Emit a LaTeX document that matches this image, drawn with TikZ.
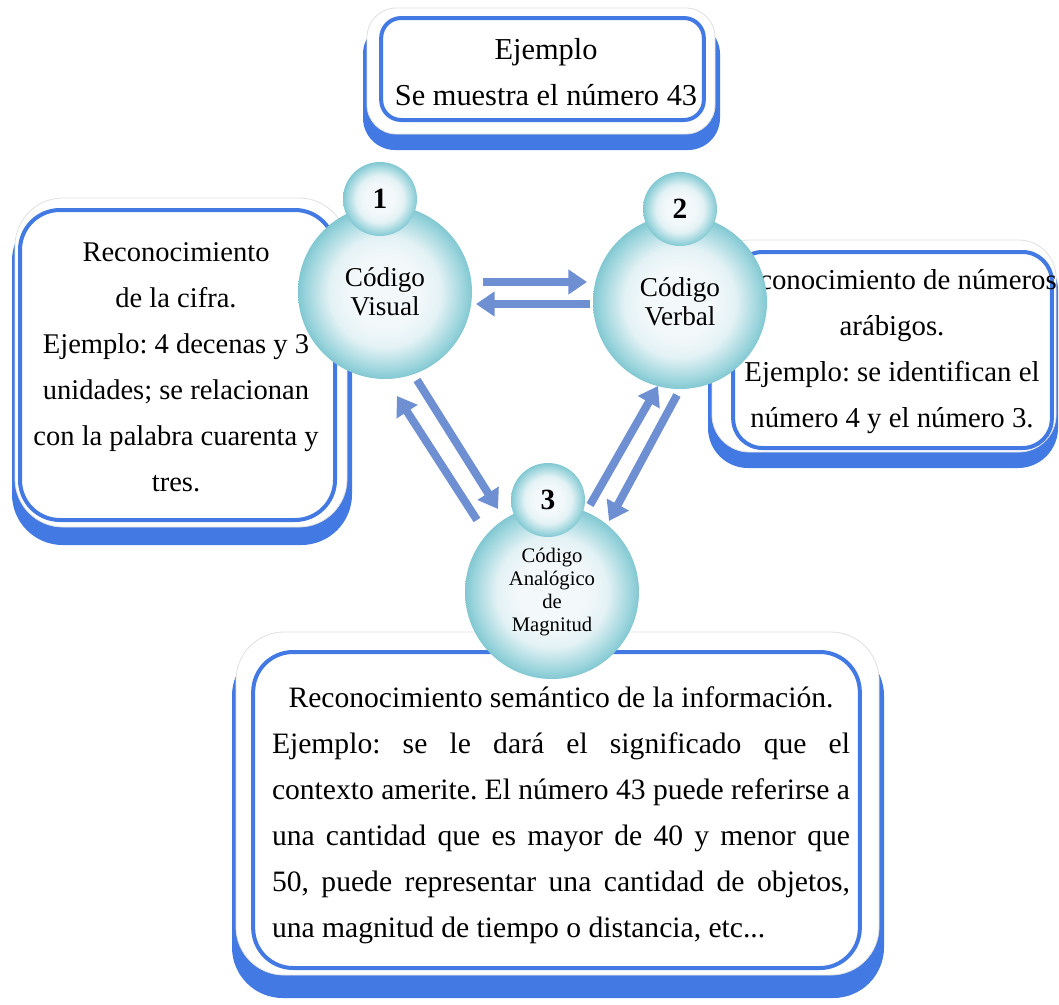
\documentclass[tikz,border=0pt]{standalone}
\usepackage{fontspec}
\setmainfont{Liberation Serif}
\usetikzlibrary{arrows.meta}
\definecolor{boxblue}{HTML}{4279E2}
\definecolor{arrowblue}{HTML}{6E8FD2}
\definecolor{ballc}{HTML}{F3F8FA}
\definecolor{balll}{HTML}{E3F2F5}
\definecolor{ballm}{HTML}{98D3DB}
\definecolor{balle}{HTML}{55B0BF}
\definecolor{balld}{HTML}{45A3B5}
\pgfdeclareradialshading{ballshade}{\pgfpoint{0bp}{0bp}}{color(0bp)=(ballc); color(10bp)=(ballc); color(16bp)=(balll); color(23bp)=(ballm); color(29bp)=(balle); color(35bp)=(balld); color(50bp)=(balld)}
\frenchspacing
\begin{document}
\begin{tikzpicture}[x=0.75pt,y=-0.75pt,
  band/.style={fill=boxblue},
  cover/.style={fill=white, draw=black!12, line width=0.6pt},
  frame/.style={draw=boxblue, line width=3pt, inner sep=0pt},
  txt/.style={align=center, inner sep=0pt},
  bigball/.style={circle, shading=ballshade, minimum size=130.5pt, inner sep=0pt, align=center},
  smallball/.style={circle, shading=ballshade, minimum size=55.5pt, inner sep=0pt, font=\fontsize{22}{24}\selectfont\bfseries},
  flow/.style={draw=arrowblue, line width=6pt, -{Triangle[length=14pt,width=18pt]}}
]
\useasboundingbox (0,0) rectangle (1059,1004);

% top box
\fill[band, rounded corners=24pt] (363,22) rectangle (720,150);
\filldraw[cover, rounded corners=22pt] (367,8) rectangle (715,134);
\node[frame, rounded corners=15pt, minimum width=242pt, minimum height=76.5pt] (tbox) at (542.5,69) {};
\node[txt, font=\fontsize{22.8}{34}\selectfont] (ttext) at (546,72) {Ejemplo\\Se muestra el número 43};

% left box
\fill[band, rounded corners=38pt] (12,210) rectangle (352,545);
\filldraw[cover, rounded corners=36pt] (15,198) rectangle (347,527);
\node[frame, rounded corners=30pt, minimum width=236.25pt, minimum height=232.5pt] (lbox) at (177.5,365) {};
\node[txt, font=\fontsize{21.4}{34.5}\selectfont] (ltext) at (176,367) {Reconocimiento\\de la cifra.\\Ejemplo: 4 decenas y 3\\unidades; se relacionan\\con la palabra cuarenta y\\tres.};

% right box
\fill[band, rounded corners=30pt] (708,250) rectangle (1058,468);
\filldraw[cover, rounded corners=28pt] (712,240) rectangle (1056,452);
\node[frame, rounded corners=22pt, minimum width=239pt, minimum height=147pt] (rbox) at (892.5,350) {};
\node[txt, font=\fontsize{21.6}{34.5}\selectfont] (rtext) at (892,352) {Reconocimiento de números\\arábigos.\\Ejemplo: se identifican el\\número 4 y el número 3.};

% bottom box
\fill[band, rounded corners=38pt] (232,645) rectangle (884,998);
\filldraw[cover, rounded corners=36pt] (236,632) rectangle (879,975);
\node[frame, rounded corners=30pt, minimum width=455pt, minimum height=237pt] (bbox) at (556.5,810) {};
\node[txt, align=left, font=\fontsize{22.2}{34.5}\selectfont] (btext) at (561,815) {%
\makebox[433.5pt][c]{Reconocimiento semántico de la información.}\\
\makebox[433.5pt][s]{Ejemplo: se le dará el significado que el}\\
\makebox[433.5pt][s]{contexto amerite. El número 43 puede referirse a}\\
\makebox[433.5pt][s]{una cantidad que es mayor de 40 y menor que}\\
\makebox[433.5pt][s]{50, puede representar una cantidad de objetos,}\\
\makebox[433.5pt][l]{una magnitud de tiempo o distancia, etc...}};

% arrows
\coordinate (h1s) at (483,282); \coordinate (h1e) at (587,282);
\coordinate (h2s) at (590,304); \coordinate (h2e) at (476,304);
\coordinate (l1s) at (477,520); \coordinate (l1e) at (397,396);
\coordinate (l2s) at (417,380); \coordinate (l2e) at (498,509);
\coordinate (r1s) at (590,505); \coordinate (r1e) at (658,386);
\coordinate (r2s) at (677,395); \coordinate (r2e) at (609,521);
\draw[flow] (h1s) -- (h1e);
\draw[flow] (h2s) -- (h2e);
\draw[flow] (l1s) -- (l1e);
\draw[flow] (l2s) -- (l2e);
\draw[flow] (r1s) -- (r1e);
\draw[flow] (r2s) -- (r2e);

% circles
\node[bigball, font=\fontsize{20.4}{21.75}\selectfont] (c1) at (385,292) {Código\\Visual};
\node[bigball, font=\fontsize{20.4}{21.75}\selectfont] (c2) at (680,302) {Código\\Verbal};
\node[bigball, font=\fontsize{15.5}{17.25}\selectfont] (c3) at (552,592) {Código\\Analógico\\de\\Magnitud};
\node[smallball] (n1) at (380,199) {1};
\node[smallball] (n2) at (680,209) {2};
\node[smallball] (n3) at (548,500) {3};
\end{tikzpicture}
\end{document}
